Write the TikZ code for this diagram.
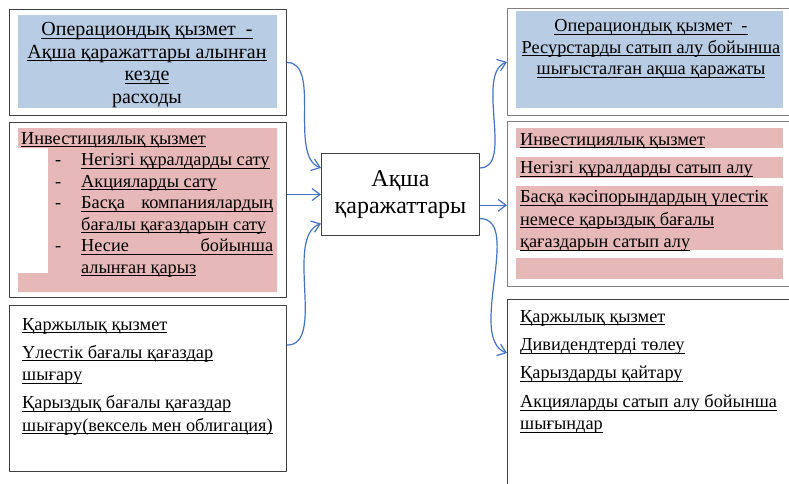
\documentclass[tikz,border=0pt]{standalone}
\usepackage{fontspec}
\setmainfont{Liberation Serif}
\usetikzlibrary{arrows.meta,calc,positioning}

\definecolor{bandblue}{RGB}{184,204,228}
\definecolor{bandpink}{RGB}{230,184,183}
\definecolor{flowblue}{RGB}{68,114,196}

\newcommand{\undl}[1]{\setbox0\hbox{#1}\rlap{\rule[-3pt]{\wd0}{0.8pt}}\box0}
\newcommand{\dashitem}[1]{\makebox[60pt][l]{\hspace*{34pt}-}\undl{#1}}
\newcommand{\moreitem}[1]{\hspace*{60pt}\undl{#1}}

\begin{document}
\begin{tikzpicture}[x=1pt, y=1pt, line join=round,
    font=\fontsize{18.3}{21.5}\selectfont,
    panel/.style={draw=black!75, line width=1pt, minimum width=277pt, inner sep=0pt, anchor=north west},
    lightpanel/.style={panel, draw=black!50},
    body/.style={inner sep=0pt, anchor=north west, align=left},
    flow/.style={draw=flowblue, line width=1.2pt, -{Straight Barb[length=8pt,width=12pt]}}]
    \clip (0,0) rectangle (789,-483);
    \fill[white] (0,0) rectangle (789,-483);

    % boxes
    \node[panel, minimum height=106pt] (opin) at (9,-9) {};
    \node[panel, minimum height=175pt] (invin) at (9,-122) {};
    \node[panel, minimum height=166pt] (finin) at (9,-305) {};
    \node[lightpanel, minimum width=300pt, minimum height=107pt] (opout) at (507,-8) {};
    \node[lightpanel, minimum width=300pt, minimum height=165pt] (invout) at (507,-121) {};
    \node[panel, minimum width=300pt, minimum height=220pt] (finout) at (507,-299) {};
    \node[panel, minimum width=158pt, minimum height=82pt, align=center,
          font=\fontsize{24}{27}\selectfont] (cash) at (321,-153) {Ақша\\қаражаттары};

    % coloured bands
    \fill[bandblue] (18,-15) rectangle (277,-108);
    \fill[bandpink] (18,-128) -- (277,-128) -- (277,-292) -- (18,-292) -- (18,-273)
        -- (48,-273) -- (48,-148) -- (18,-148) -- cycle;
    \fill[bandblue] (516,-11) rectangle (783,-108);
    \fill[bandpink] (516,-128) rectangle (783,-148);
    \fill[bandpink] (516,-157) rectangle (783,-178);
    \fill[bandpink] (516,-186) rectangle (783,-250);
    \fill[bandpink] (516,-258) rectangle (783,-279);

    % texts
    \node[body, align=center, anchor=center, font=\fontsize{20}{22.4}\selectfont] (opintext) at (147,-65)
        {\undl{Операциондық қызмет\ \ -}\\ \undl{Ақша қаражаттары алынған}\\ \undl{кезде}\\ расходы};
    \node[body] (invintext) at (21,-132)
        {\undl{Инвестициялық қызмет}\\
         \dashitem{Негізгі құралдарды сату}\\
         \dashitem{Акцияларды сату}\\
         \dashitem{\makebox[192pt][s]{Басқа компаниялардың}}\\
         \moreitem{бағалы қағаздарын сату}\\
         \dashitem{\makebox[192pt][s]{Несие бойынша}}\\
         \moreitem{алынған қарыз}};
    \node[body, font=\fontsize{18.3}{22.6}\selectfont] (fintext) at (22,-318)
        {\undl{Қаржылық қызмет}\\[5.5pt]
         \undl{Үлестік бағалы қағаздар}\\
         \undl{шығару}\\[5pt]
         \undl{Қарыздық бағалы қағаздар}\\
         \undl{шығару(вексель мен облигация)}};
    \node[body, align=center, anchor=center] (opouttext) at (651,-49)
        {\undl{Операциондық қызмет\ \ -}\\ \undl{Ресурстарды сатып алу бойынша}\\ \undl{шығысталған ақша қаражаты}};
    \node[body, font=\fontsize{18.3}{22.3}\selectfont] (invouttext) at (520,-133)
        {\undl{Инвестициялық қызмет}\\[6.5pt]
         \undl{Негізгі құралдарды сатып алу}\\[6.5pt]
         \undl{Басқа кәсіпорындардың үлестік}\\
         \undl{немесе қарыздық бағалы}\\
         \undl{қағаздарын сатып алу}};
    \node[body, font=\fontsize{18.3}{22.4}\selectfont] (finouttext) at (520,-310)
        {\undl{Қаржылық қызмет}\\[6pt]
         \undl{Дивидендтерді төлеу}\\[6pt]
         \undl{Қарыздарды қайтару}\\[6pt]
         \undl{Акцияларды сатып алу бойынша}\\
         \undl{шығындар}};

    % flows
    \coordinate (cashin1) at ($(cash.north west)!0.18!(cash.south west)$);
    \coordinate (cashin3) at ($(cash.north west)!0.85!(cash.south west)$);
    \coordinate (fininout) at ($(finin.north east)!0.24!(finin.south east)$);
    \coordinate (cashout1) at ($(cash.north east)!0.18!(cash.south east)$);
    \coordinate (cashout2) at ($(cash.north east)!0.63!(cash.south east)$);
    \coordinate (cashout3) at ($(cash.north east)!0.79!(cash.south east)$);
    \coordinate (finoutin) at ($(finout.north west)+(0,-54)$);
    \draw[flow] (opin.east) to[out=0, in=160, looseness=0.8] (cashin1);
    \draw[flow] (cash.west -| invin.east) -- (cash.west);
    \draw[flow] (fininout) to[out=0, in=200, looseness=0.8] (cashin3);
    \draw[flow] (cashout1) to[out=0, in=200, looseness=0.8] (opout.west);
    \draw[flow] (cashout2) -- (cashout2 -| invout.west);
    \draw[flow] (cashout3) to[out=0, in=160, looseness=0.8] (finoutin);
\end{tikzpicture}
\end{document}
